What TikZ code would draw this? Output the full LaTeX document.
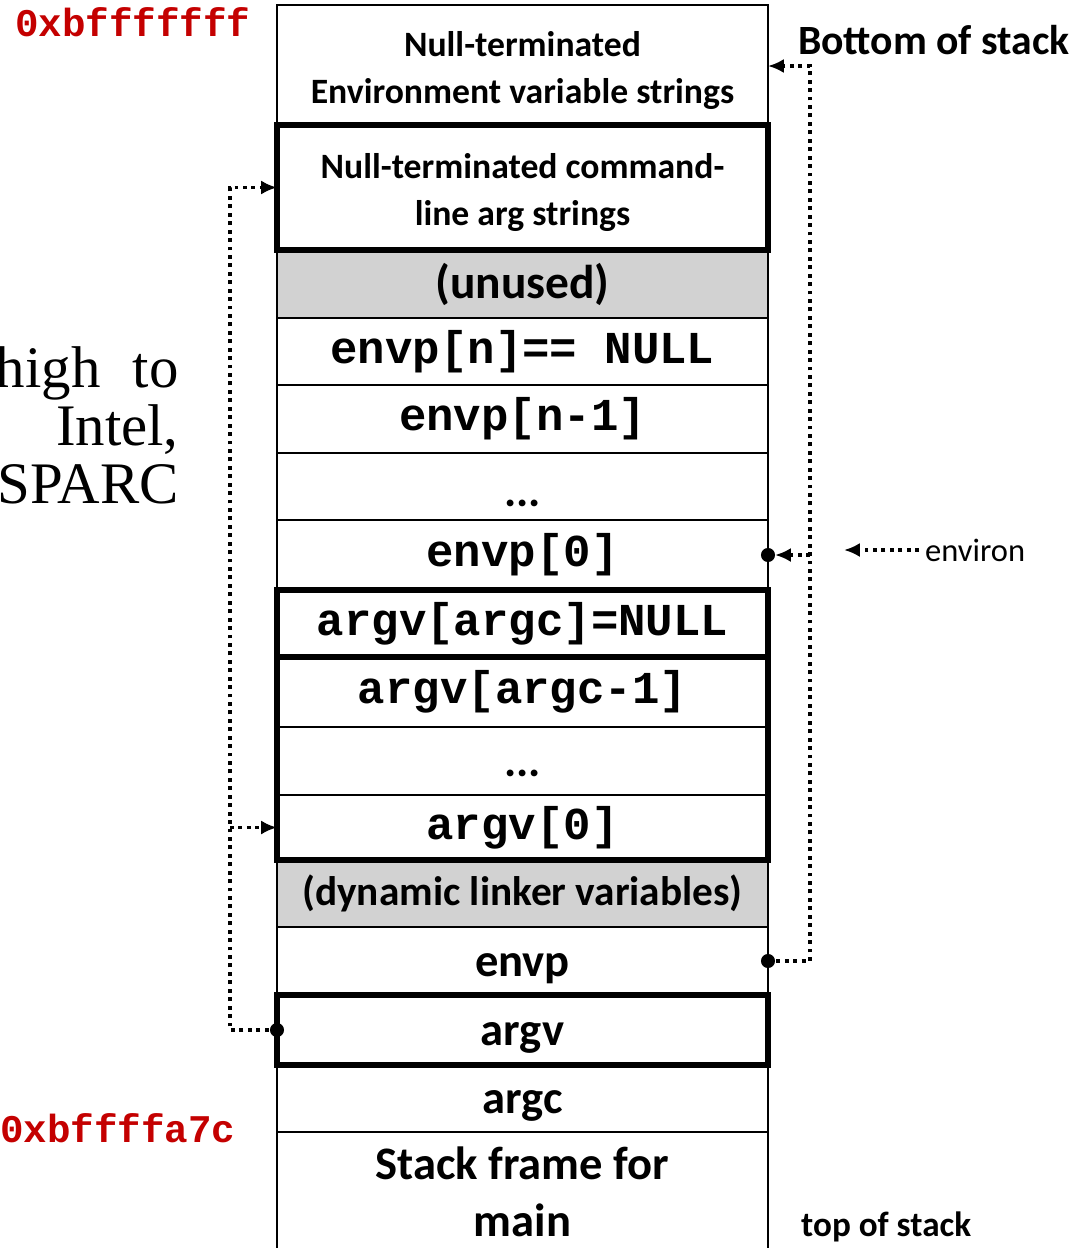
\documentclass[tikz,border=0pt]{standalone}
\usepackage{fontspec}
\usepackage{xcolor}
\usepackage{tikz}
\usetikzlibrary{arrows.meta,calc,positioning}
\newfontfamily\carlito{Carlito}
\newfontfamily\couriermono{Liberation Mono}
\newfontfamily\timesserif{Liberation Serif}
\definecolor{addrred}{RGB}{196,0,0}
\definecolor{cellgray}{RGB}{210,210,210}
\newcommand{\topstrut}{\rule{0pt}{20pt}}

\tikzset{
  cell/.style={draw, line width=1.1pt, minimum width=9.82cm, minimum height=1.36cm,
    inner sep=0pt, outer sep=0pt, font=\couriermono\bfseries\fontsize{26}{30}\selectfont},
  txtcell/.style={cell, align=center, font=\carlito\bfseries\fontsize{20.3}{26.7}\selectfont},
  bigcell/.style={cell, text height=0.6cm, text depth=0pt, font=\carlito\bfseries\fontsize{26.5}{32.4}\selectfont},
  graycell/.style={cell, fill=cellgray, font=\carlito\bfseries\fontsize{23.5}{28}\selectfont},
  dotcell/.style={cell, text height=0.8cm, text depth=0pt, font=\carlito\bfseries\fontsize{26}{30}\selectfont},
  thickbox/.style={line width=3.2pt},
  ptr/.style={line width=2.2pt, dash pattern=on 2.2pt off 2.6pt, -{Latex[length=9pt,width=8pt]}},
  addr/.style={anchor=west, inner sep=0pt, text=addrred, font=\couriermono\bfseries\fontsize{22.3}{26}\selectfont},
  note/.style={anchor=west, font=\carlito\bfseries\fontsize{23.7}{27}\selectfont}
}

\begin{document}
\begin{tikzpicture}
\useasboundingbox (0,0) rectangle (21.5,-24.96);
\clip (0,0) rectangle (21.5,-24.96);

% stack column, high addresses first
\coordinate(O1) at (5.54,-0.1);
\node[below right=0cm of O1, txtcell, minimum height=2.4cm](envstr) {\topstrut Null-terminated\\Environment variable strings};
\node[below=0cm of envstr, txtcell, minimum height=2.5cm](cmdstr) {\topstrut Null-terminated command-\\line arg strings};
\node[below=0cm of cmdstr, graycell, font=\carlito\bfseries\fontsize{27}{30}\selectfont](unused) {(unused)};
\node[below=0cm of unused, cell, minimum height=1.34cm](envpn) {envp[n]== NULL};
\node[below=0cm of envpn, cell](envpnm) {envp[n-1]};
\node[below=0cm of envpnm, dotcell, minimum height=1.34cm](envpdots) {...};
\node[below=0cm of envpdots, cell, minimum height=1.4cm](envpzero) {envp[0]};
\node[below=0cm of envpzero, cell, minimum height=1.34cm](argvnull) {argv[argc]=NULL};
\node[below=0cm of argvnull, cell, minimum height=1.4cm](argvlast) {argv[argc-1]};
\node[below=0cm of argvlast, dotcell, text height=0.6cm](argvdots) {...};
\node[below=0cm of argvdots, cell, minimum height=1.3cm](argvzero) {argv[0]};
\node[below=0cm of argvzero, graycell, minimum height=1.34cm](dynlink) {(dynamic linker variables)};
\node[below=0cm of dynlink, bigcell](envpptr) {envp};
\node[below=0cm of envpptr, bigcell, minimum height=1.4cm](argvptr) {argv};
\node[below=0cm of argvptr, bigcell, minimum height=1.34cm](argcval) {argc};
\node[below=0cm of argcval, cell, align=center, minimum height=2.4cm, font=\carlito\bfseries\fontsize{26.5}{32.4}\selectfont](mainframe) {Stack frame for\\main};

% heavy outlines
\draw[thickbox] (cmdstr.north west) rectangle (cmdstr.south east);
\draw[thickbox] (argvnull.north west) rectangle (argvnull.south east);
\draw[thickbox] (argvlast.north west) rectangle (argvzero.south east);
\draw[thickbox] (argvptr.north west) rectangle (argvptr.south east);

% addresses and notes
\node[addr] (addrhigh) at (0.3,-0.44) {0xbfffffff};
\node[addr] (addrlow) at (0,-22.56) {0xbffffa7c};
\node[note] (bottom) at (15.84,-0.8) {Bottom of stack};
\node[note, font=\carlito\bfseries\fontsize{20}{24}\selectfont] (top) at (15.9,-24.54) {top of stack};
\node[anchor=west, font=\carlito\fontsize{18.5}{22}\selectfont] (environ) at (18.38,-11.0) {environ};
\node[anchor=east, inner sep=0pt, align=right, font=\timesserif\fontsize{33.5}{33}\selectfont] (growth) at (3.58,-8.5) {high\hspace{0.55em}to\\Intel,\\SPARC};

% pointers
\coordinate (lrail) at (4.6,0);
\coordinate (rrail) at (16.2,0);
\coordinate (envtip) at (16.88,-11.0);
\fill (argvptr.west) circle (4pt);
\fill (envpptr.east) circle (4pt);
\fill (envpzero.east) circle (4pt);
\draw[ptr] (argvptr.west) -- (argvptr.west -| lrail) |- (cmdstr.west);
\draw[ptr] (argvzero.west -| lrail) -- (argvzero.west);
\draw[ptr] (envpptr.east) -- (envpptr.east -| rrail) |- ($(envstr.east)+(0,-0.02)$);
\draw[ptr, shorten >=4pt] (envpzero.east -| rrail) -- (envpzero.east);
\draw[ptr] (environ.west) -- (envtip);
\end{tikzpicture}
\end{document}
